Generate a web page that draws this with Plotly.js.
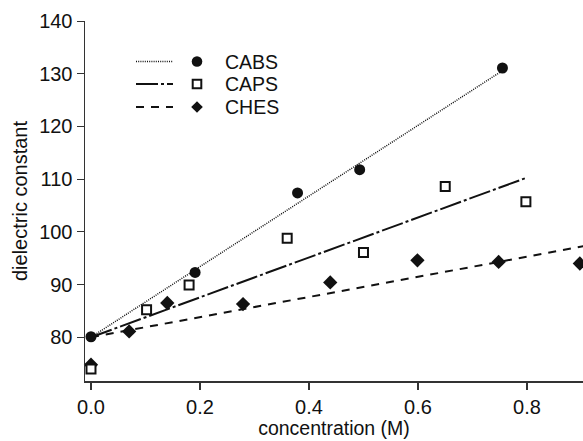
<!DOCTYPE html>
<html>
<head>
<meta charset="utf-8">
<script src="https://cdn.plot.ly/plotly-3.0.1.min.js"></script>
<style>html,body{margin:0;padding:0;background:#fff;}#chart{width:583px;height:441px;}</style>
</head>
<body>
<div id="chart"></div>
<script>
// ---- data ----
const seriesNames = ["CABS", "CAPS", "CHES"];

const cabsX = [0.0, 0.191, 0.379, 0.493, 0.755];
const cabsY = [80.1, 92.3, 107.4, 111.8, 131.1];

const capsX = [0.0, 0.102, 0.180, 0.360, 0.500, 0.650, 0.798];
const capsY = [74.0, 85.2, 89.9, 98.8, 96.1, 108.6, 105.7];

const chesX = [0.0, 0.070, 0.140, 0.279, 0.439, 0.599, 0.748, 0.897];
const chesY = [74.8, 81.1, 86.5, 86.3, 90.4, 94.6, 94.3, 94.0];

// fitted lines (endpoints as drawn)
const cabsFitX = [0.0, 0.755];
const cabsFitY = [80.0, 130.6];
const capsFitX = [0.0, 0.80];
const capsFitY = [80.0, 110.3];
const chesFitX = [0.0, 0.905];
const chesFitY = [80.0, 97.3];

const xTickVals = [0.0, 0.2, 0.4, 0.6, 0.8];
const xTickText = ["0.0", "0.2", "0.4", "0.6", "0.8"];
const yTickVals = [80, 90, 100, 110, 120, 130, 140];
const yTickText = ["80", "90", "100", "110", "120", "130", "140"];

// ---- styling ----
const ink = "#111";
const FONT = "Liberation Sans, Arial, Helvetica, sans-serif";
const FS = 20;
const dashes = ["1px,1.2px", "22px,3px,3px,3px", "8px,7px"];
const widths = [1.5, 2, 2];

const traces = [
  {x: cabsFitX, y: cabsFitY, mode: "lines", line: {color: ink, width: widths[0], dash: dashes[0]}},
  {x: capsFitX, y: capsFitY, mode: "lines", line: {color: ink, width: widths[1], dash: dashes[1]}},
  {x: chesFitX, y: chesFitY, mode: "lines", line: {color: ink, width: widths[2], dash: dashes[2]}},
  {x: chesX, y: chesY, mode: "markers", name: seriesNames[2],
   marker: {symbol: "diamond", size: 11, color: ink, line: {width: 0}}},
  {x: capsX, y: capsY, mode: "markers", name: seriesNames[1],
   marker: {symbol: "square", size: 9, color: "#fff", line: {color: ink, width: 2}}},
  {x: cabsX, y: cabsY, mode: "markers", name: seriesNames[0],
   marker: {symbol: "circle", size: 11, color: ink, line: {width: 0}}}
].map(t => Object.assign({showlegend: false, hoverinfo: "skip", cliponaxis: false}, t));

// ---- layout geometry (pixels) ----
const W = 583, H = 441;
const mL = 85, mR = 0, mT = 21, mB = 60;
const pw = W - mL - mR, ph = H - mT - mB;
const px = v => (v - mL) / pw;        // pixel x -> paper
const py = v => (H - mB - v) / ph;    // pixel y -> paper

// custom legend: line sample, marker, label
const legRows = [61.5, 84, 107];
const legLineX0 = 136, legLineX1 = 173, legMarkX = 197, legTextX = 223;
const shapes = [];
const annotations = [];
legRows.forEach((ry, i) => {
  shapes.push({type: "line", xref: "paper", yref: "paper",
    x0: px(legLineX0), x1: px(legLineX1), y0: py(ry), y1: py(ry),
    line: {color: ink, width: widths[i], dash: dashes[i]}});
  annotations.push({xref: "paper", yref: "paper", x: px(legTextX), y: py(ry),
    xanchor: "left", yanchor: "middle", showarrow: false,
    text: seriesNames[i], font: {family: FONT, size: 19.5, color: ink}});
});
// legend markers
{
  const r = 5.3;
  const cy = legRows[0];
  shapes.push({type: "circle", xref: "paper", yref: "paper",
    x0: px(legMarkX - r), x1: px(legMarkX + r), y0: py(cy + r), y1: py(cy - r),
    fillcolor: ink, line: {width: 0}});
  const s = 4.3, sy = legRows[1];
  shapes.push({type: "rect", xref: "paper", yref: "paper",
    x0: px(legMarkX - s), x1: px(legMarkX + s), y0: py(sy + s), y1: py(sy - s),
    fillcolor: "#fff", line: {color: ink, width: 2}});
  const d = 5.8, dy = legRows[2];
  const P = (a, b) => px(a) + "," + py(b);
  shapes.push({type: "path", xref: "paper", yref: "paper",
    path: "M" + P(legMarkX, dy - d) + " L" + P(legMarkX + d, dy) + " L" + P(legMarkX, dy + d) + " L" + P(legMarkX - d, dy) + " Z",
    fillcolor: ink, line: {width: 0}});
}

const layout = {
  width: W, height: H,
  margin: {l: mL, r: mR, t: mT, b: mB, pad: 0},
  paper_bgcolor: "#fff", plot_bgcolor: "#fff",
  font: {family: FONT, size: FS, color: ink},
  showlegend: false,
  xaxis: {
    range: [-0.011, 0.9028], showgrid: false, zeroline: false,
    showline: true, linecolor: "#333", linewidth: 1.5,
    ticks: "outside", ticklen: 7, tickwidth: 1.2, tickcolor: "#333",
    tickvals: xTickVals, ticktext: xTickText,
    tickfont: {family: FONT, size: FS, color: ink},
    title: {text: "concentration (M)", font: {family: FONT, size: 19.5, color: ink}, standoff: 0}
  },
  yaxis: {
    range: [71.7, 140.02], showgrid: false, zeroline: false,
    showline: true, linecolor: "#333", linewidth: 1.5,
    ticks: "outside", ticklen: 7, tickwidth: 1.2, tickcolor: "#333",
    tickvals: yTickVals, ticktext: yTickText,
    tickfont: {family: FONT, size: FS, color: ink},
    title: {text: "dielectric constant", font: {family: FONT, size: 20, color: ink}, standoff: 6}
  },
  shapes: shapes,
  annotations: annotations
};

Plotly.newPlot("chart", traces, layout, {staticPlot: true, displayModeBar: false});
</script>
</body>
</html>
